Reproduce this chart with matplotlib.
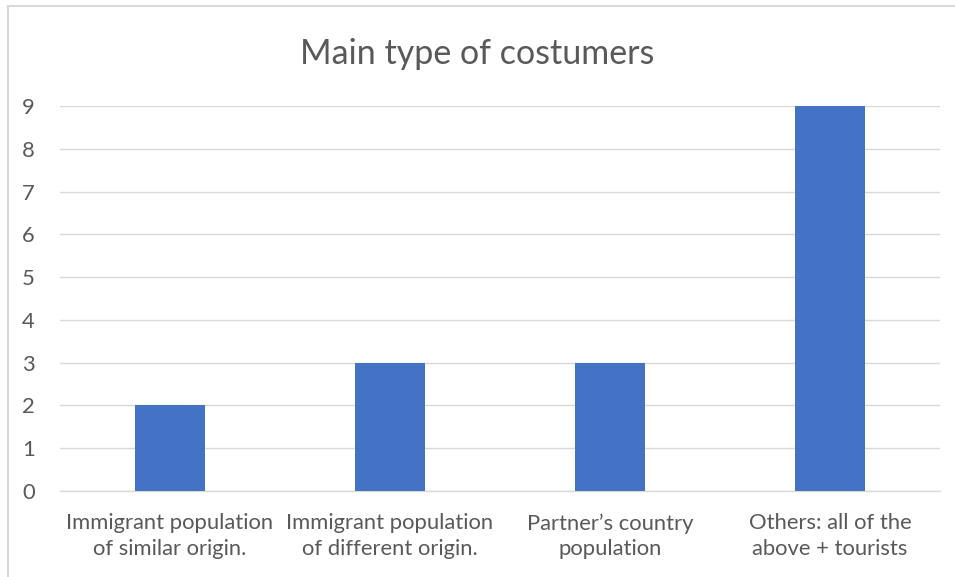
import matplotlib.pyplot as plt
from matplotlib.lines import Line2D

categories = ["Immigrant population\nof similar origin.",
              "Immigrant population\nof different origin.",
              "Partner\u2019s country\npopulation",
              "Others: all of the\nabove + tourists"]
values = [2, 3, 3, 9]
yticks = [0, 1, 2, 3, 4, 5, 6, 7, 8, 9]

plt.rcParams['font.family'] = ['Lato', 'DejaVu Sans']
fig = plt.figure(figsize=(9.55, 5.77), dpi=100)
ax = fig.add_axes([60/955, 1-491/577, 880/955, 385/577])

x = list(range(len(categories)))
ax.bar(x, values, width=0.316, color='#4472C4', zorder=3)
ax.set_xlim(-0.5, len(categories) - 0.5)
ax.set_ylim(0, 9)
ax.set_yticks(yticks)
ax.set_xticks(x)
ax.set_xticklabels(categories, fontsize=15.8, color='#595959', linespacing=1.35)
ax.tick_params(axis='y', labelsize=15.8, labelcolor='#595959', length=0, pad=18)
ax.tick_params(axis='x', length=0, pad=16)
ax.grid(axis='y', color='#D9D9D9', linewidth=1, zorder=0)
for s in ['top', 'right', 'left']:
    ax.spines[s].set_visible(False)
ax.spines['bottom'].set_color('#D9D9D9')
ax.spines['bottom'].set_linewidth(1)

fig.text(0.5, 1-54/577, "Main type of costumers", ha='center', va='center',
         fontsize=24.5, color='#595959')

# chart border (only left and top visible)
fig.add_artist(Line2D([8/955, 8/955], [0, 1-6/577], transform=fig.transFigure,
                      color='#D9D9D9', linewidth=1.5))
fig.add_artist(Line2D([8/955, 1], [1-6/577, 1-6/577], transform=fig.transFigure,
                      color='#D9D9D9', linewidth=1.5))

fig.savefig('out.png', dpi=100)
